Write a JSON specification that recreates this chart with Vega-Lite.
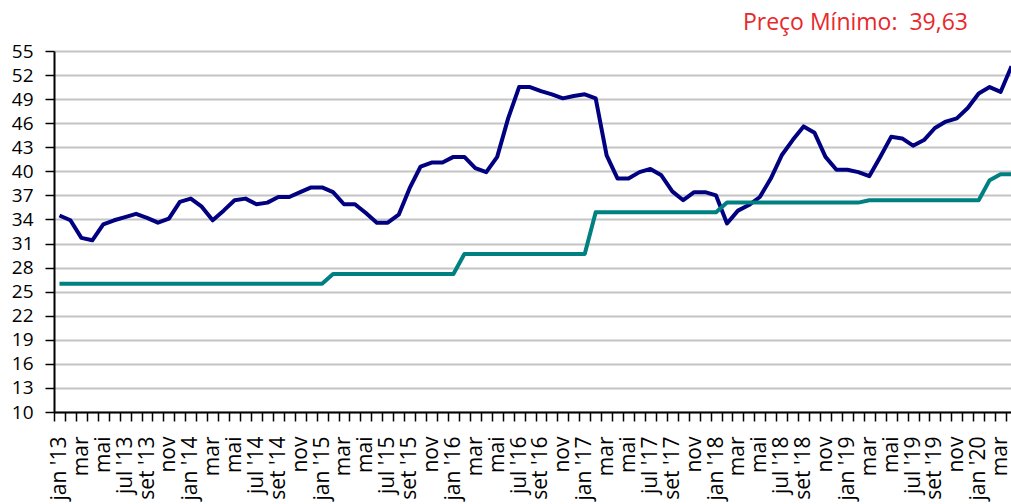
{
  "$schema": "https://vega.github.io/schema/vega-lite/v6.json",
  "width": 963,
  "height": 361,
  "autosize": {"type": "none"},
  "padding": {"left": 54, "top": 51, "right": -6, "bottom": 92},
  "background": "white",
  "config": {"view": {"stroke": null}, "font": "Open Sans"},
  "title": {
    "text": "Preço Mínimo:\u00a0 39,63",
    "anchor": "end",
    "frame": "group",
    "color": "#e8282c",
    "fontSize": 23,
    "font": "Open Sans",
    "fontWeight": "normal",
    "baseline": "alphabetic",
    "offset": 20,
    "dx": -49,
    "dy": 31
  },
  "data": {
    "values": [
      {"mes": "2013-01", "preco": 34.5, "minimo": 26.0},
      {"mes": "2013-02", "preco": 33.9, "minimo": 26.0},
      {"mes": "2013-03", "preco": 31.7, "minimo": 26.0},
      {"mes": "2013-04", "preco": 31.4, "minimo": 26.0},
      {"mes": "2013-05", "preco": 33.4, "minimo": 26.0},
      {"mes": "2013-06", "preco": 33.9, "minimo": 26.0},
      {"mes": "2013-07", "preco": 34.3, "minimo": 26.0},
      {"mes": "2013-08", "preco": 34.7, "minimo": 26.0},
      {"mes": "2013-09", "preco": 34.2, "minimo": 26.0},
      {"mes": "2013-10", "preco": 33.6, "minimo": 26.0},
      {"mes": "2013-11", "preco": 34.1, "minimo": 26.0},
      {"mes": "2013-12", "preco": 36.2, "minimo": 26.0},
      {"mes": "2014-01", "preco": 36.6, "minimo": 26.0},
      {"mes": "2014-02", "preco": 35.6, "minimo": 26.0},
      {"mes": "2014-03", "preco": 33.9, "minimo": 26.0},
      {"mes": "2014-04", "preco": 35.1, "minimo": 26.0},
      {"mes": "2014-05", "preco": 36.4, "minimo": 26.0},
      {"mes": "2014-06", "preco": 36.6, "minimo": 26.0},
      {"mes": "2014-07", "preco": 35.9, "minimo": 26.0},
      {"mes": "2014-08", "preco": 36.1, "minimo": 26.0},
      {"mes": "2014-09", "preco": 36.8, "minimo": 26.0},
      {"mes": "2014-10", "preco": 36.8, "minimo": 26.0},
      {"mes": "2014-11", "preco": 37.4, "minimo": 26.0},
      {"mes": "2014-12", "preco": 38.0, "minimo": 26.0},
      {"mes": "2015-01", "preco": 38.0, "minimo": 26.0},
      {"mes": "2015-02", "preco": 37.4, "minimo": 27.2},
      {"mes": "2015-03", "preco": 35.9, "minimo": 27.2},
      {"mes": "2015-04", "preco": 35.9, "minimo": 27.2},
      {"mes": "2015-05", "preco": 34.8, "minimo": 27.2},
      {"mes": "2015-06", "preco": 33.6, "minimo": 27.2},
      {"mes": "2015-07", "preco": 33.6, "minimo": 27.2},
      {"mes": "2015-08", "preco": 34.6, "minimo": 27.2},
      {"mes": "2015-09", "preco": 37.9, "minimo": 27.2},
      {"mes": "2015-10", "preco": 40.6, "minimo": 27.2},
      {"mes": "2015-11", "preco": 41.1, "minimo": 27.2},
      {"mes": "2015-12", "preco": 41.1, "minimo": 27.2},
      {"mes": "2016-01", "preco": 41.8, "minimo": 27.2},
      {"mes": "2016-02", "preco": 41.8, "minimo": 29.7},
      {"mes": "2016-03", "preco": 40.4, "minimo": 29.7},
      {"mes": "2016-04", "preco": 39.9, "minimo": 29.7},
      {"mes": "2016-05", "preco": 41.8, "minimo": 29.7},
      {"mes": "2016-06", "preco": 46.6, "minimo": 29.7},
      {"mes": "2016-07", "preco": 50.5, "minimo": 29.7},
      {"mes": "2016-08", "preco": 50.5, "minimo": 29.7},
      {"mes": "2016-09", "preco": 50.0, "minimo": 29.7},
      {"mes": "2016-10", "preco": 49.6, "minimo": 29.7},
      {"mes": "2016-11", "preco": 49.1, "minimo": 29.7},
      {"mes": "2016-12", "preco": 49.4, "minimo": 29.7},
      {"mes": "2017-01", "preco": 49.6, "minimo": 29.7},
      {"mes": "2017-02", "preco": 49.1, "minimo": 34.9},
      {"mes": "2017-03", "preco": 42.0, "minimo": 34.9},
      {"mes": "2017-04", "preco": 39.1, "minimo": 34.9},
      {"mes": "2017-05", "preco": 39.1, "minimo": 34.9},
      {"mes": "2017-06", "preco": 39.9, "minimo": 34.9},
      {"mes": "2017-07", "preco": 40.3, "minimo": 34.9},
      {"mes": "2017-08", "preco": 39.5, "minimo": 34.9},
      {"mes": "2017-09", "preco": 37.5, "minimo": 34.9},
      {"mes": "2017-10", "preco": 36.4, "minimo": 34.9},
      {"mes": "2017-11", "preco": 37.4, "minimo": 34.9},
      {"mes": "2017-12", "preco": 37.4, "minimo": 34.9},
      {"mes": "2018-01", "preco": 37.0, "minimo": 34.9},
      {"mes": "2018-02", "preco": 33.5, "minimo": 36.1},
      {"mes": "2018-03", "preco": 35.1, "minimo": 36.1},
      {"mes": "2018-04", "preco": 35.8, "minimo": 36.1},
      {"mes": "2018-05", "preco": 36.8, "minimo": 36.1},
      {"mes": "2018-06", "preco": 39.1, "minimo": 36.1},
      {"mes": "2018-07", "preco": 42.0, "minimo": 36.1},
      {"mes": "2018-08", "preco": 43.9, "minimo": 36.1},
      {"mes": "2018-09", "preco": 45.6, "minimo": 36.1},
      {"mes": "2018-10", "preco": 44.8, "minimo": 36.1},
      {"mes": "2018-11", "preco": 41.8, "minimo": 36.1},
      {"mes": "2018-12", "preco": 40.2, "minimo": 36.1},
      {"mes": "2019-01", "preco": 40.2, "minimo": 36.1},
      {"mes": "2019-02", "preco": 39.9, "minimo": 36.1},
      {"mes": "2019-03", "preco": 39.4, "minimo": 36.4},
      {"mes": "2019-04", "preco": 41.8, "minimo": 36.4},
      {"mes": "2019-05", "preco": 44.3, "minimo": 36.4},
      {"mes": "2019-06", "preco": 44.1, "minimo": 36.4},
      {"mes": "2019-07", "preco": 43.2, "minimo": 36.4},
      {"mes": "2019-08", "preco": 43.9, "minimo": 36.4},
      {"mes": "2019-09", "preco": 45.4, "minimo": 36.4},
      {"mes": "2019-10", "preco": 46.2, "minimo": 36.4},
      {"mes": "2019-11", "preco": 46.6, "minimo": 36.4},
      {"mes": "2019-12", "preco": 47.9, "minimo": 36.4},
      {"mes": "2020-01", "preco": 49.7, "minimo": 36.4},
      {"mes": "2020-02", "preco": 50.5, "minimo": 38.9},
      {"mes": "2020-03", "preco": 49.9, "minimo": 39.63},
      {"mes": "2020-04", "preco": 53.1, "minimo": 39.63}
    ]
  },
  "encoding": {
    "x": {
      "field": "mes",
      "type": "ordinal",
      "scale": {"type": "band", "paddingInner": 0, "paddingOuter": 0},
      "axis": {
        "title": null,
        "tickBand": "extent",
        "domainColor": "#000000",
        "domainWidth": 2,
        "tickColor": "#000000",
        "tickWidth": 1.5,
        "tickSize": 9,
        "labelAngle": 270,
        "labelFont": "Open Sans",
        "labelFontSize": 21,
        "labelColor": "#000000",
        "labelPadding": 15,
        "labelOverlap": false,
        "labelBound": false,
        "grid": false,
        "labelExpr": "toNumber(slice('' + datum.value, 5, 7)) % 2 == 0 ? '' : substring('janfevmarabrmaijunjulagosetoutnovdez', (toNumber(slice('' + datum.value, 5, 7)) - 1) * 3, (toNumber(slice('' + datum.value, 5, 7)) - 1) * 3 + 3) + ((toNumber(slice('' + datum.value, 5, 7)) == 1 || toNumber(slice('' + datum.value, 5, 7)) == 7 || toNumber(slice('' + datum.value, 5, 7)) == 9) ? \" '\" + slice('' + datum.value, 2, 4) : '')"
      }
    }
  },
  "layer": [
    {
      "mark": {"type": "line", "color": "#000080", "strokeWidth": 4, "strokeJoin": "round"},
      "encoding": {
        "y": {
          "field": "preco",
          "type": "quantitative",
          "scale": {"domain": [10, 55], "nice": false, "zero": false},
          "axis": {
            "title": null,
            "values": [10, 13, 16, 19, 22, 25, 28, 31, 34, 37, 40, 43, 46, 49, 52, 55],
            "domainColor": "#000000",
            "domainWidth": 2,
            "tickColor": "#000000",
            "tickWidth": 1.5,
            "tickSize": 9,
            "labelFont": "Open Sans",
            "labelFontSize": 19,
            "labelColor": "#000000",
            "labelPadding": 12,
            "grid": true,
            "gridColor": "#c4c4c4",
            "gridWidth": 2
          }
        }
      }
    },
    {
      "mark": {"type": "line", "color": "#008080", "strokeWidth": 4, "strokeJoin": "round"},
      "encoding": {
        "y": {
          "field": "minimo",
          "type": "quantitative",
          "scale": {"domain": [10, 55], "nice": false, "zero": false},
          "axis": {
            "title": null,
            "values": [10, 13, 16, 19, 22, 25, 28, 31, 34, 37, 40, 43, 46, 49, 52, 55],
            "domainColor": "#000000",
            "domainWidth": 2,
            "tickColor": "#000000",
            "tickWidth": 1.5,
            "tickSize": 9,
            "labelFont": "Open Sans",
            "labelFontSize": 19,
            "labelColor": "#000000",
            "labelPadding": 12,
            "grid": true,
            "gridColor": "#c4c4c4",
            "gridWidth": 2
          }
        }
      }
    }
  ]
}
